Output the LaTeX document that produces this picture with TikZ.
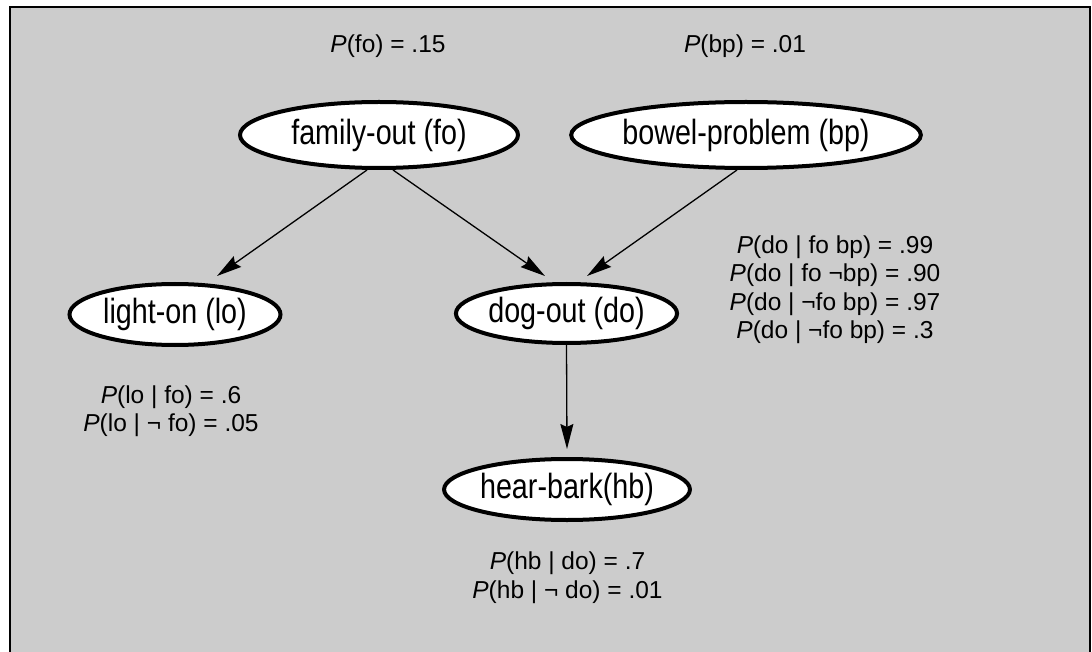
\documentclass[tikz,border=0pt]{standalone}
\usepackage{fontspec}
\setmainfont{Liberation Sans}
\newfontfamily\nodefont[FakeStretch=0.82]{Liberation Sans}
\usetikzlibrary{arrows.meta,calc,shapes.geometric}
\definecolor{bggray}{HTML}{CCCCCC}
\tikzset{
  var/.style={ellipse, draw=black, fill=white, line width=4pt, inner sep=0pt,
    font=\nodefont\fontsize{35}{40}\selectfont},
  cpt/.style={align=center, inner sep=0pt, font=\fontsize{24.5}{28.5}\selectfont},
  edge/.style={line width=1.3pt, -{Stealth[length=25pt,width=13pt,inset=3pt]}},
}
\begin{document}
\begin{tikzpicture}[x=1pt,y=-1pt]
\useasboundingbox (0,0) rectangle (1092,652);
\clip (0,0) rectangle (1092,652);
\draw[line width=2.5pt, fill=bggray] (10,7) rectangle (1090,680);

\node[var, minimum width=278pt, minimum height=66pt] (fo) at (379,135) {family-out (fo)};
\node[var, minimum width=342pt, minimum height=66pt] (bp) at (746,135) {bowel-problem (bp)};
\node[var, minimum width=211pt, minimum height=61pt] (lo) at (175,314.5) {light-on (lo)};
\node[var, minimum width=209pt, minimum height=59pt] (do) at (566.5,313.5) {dog-out (do)};
\node[var, minimum width=208pt, minimum height=61pt] (hb) at (567,489.5) {hear-bark(hb)};

\node[cpt] (pfo) at (388,46) {\textit{P}(fo) = .15};
\node[cpt] (pbp) at (745,46) {\textit{P}(bp) = .01};
\node[cpt] (pdo) at (835,289.5) {\textit{P}(do \textbar{} fo bp) = .99\\
\textit{P}(do \textbar{} fo ¬bp) = .90\\
\textit{P}(do \textbar{} ¬fo bp) = .97\\
\textit{P}(do \textbar{} ¬fo bp) = .3};
\node[cpt] (plo) at (171,411) {\textit{P}(lo \textbar{} fo) = .6\\
\textit{P}(lo \textbar{} ¬ fo) = .05};
\node[cpt] (phb) at (567.5,577.5) {\textit{P}(hb \textbar{} do) = .7\\
\textit{P}(hb \textbar{} ¬ do) = .01};

\draw[edge] ($(fo.south)+(-12,0)$) -- ($(lo.north)+(42,-6)$);
\draw[edge] ($(fo.south)+(14,0)$) -- ($(do.north)+(-21.5,-6)$);
\draw[edge] ($(bp.south)+(-9,0)$) -- ($(do.north)+(20.5,-6)$);
\draw[edge] (do.south) -- ($(hb.north)+(0,-8)$);
\end{tikzpicture}
\end{document}
